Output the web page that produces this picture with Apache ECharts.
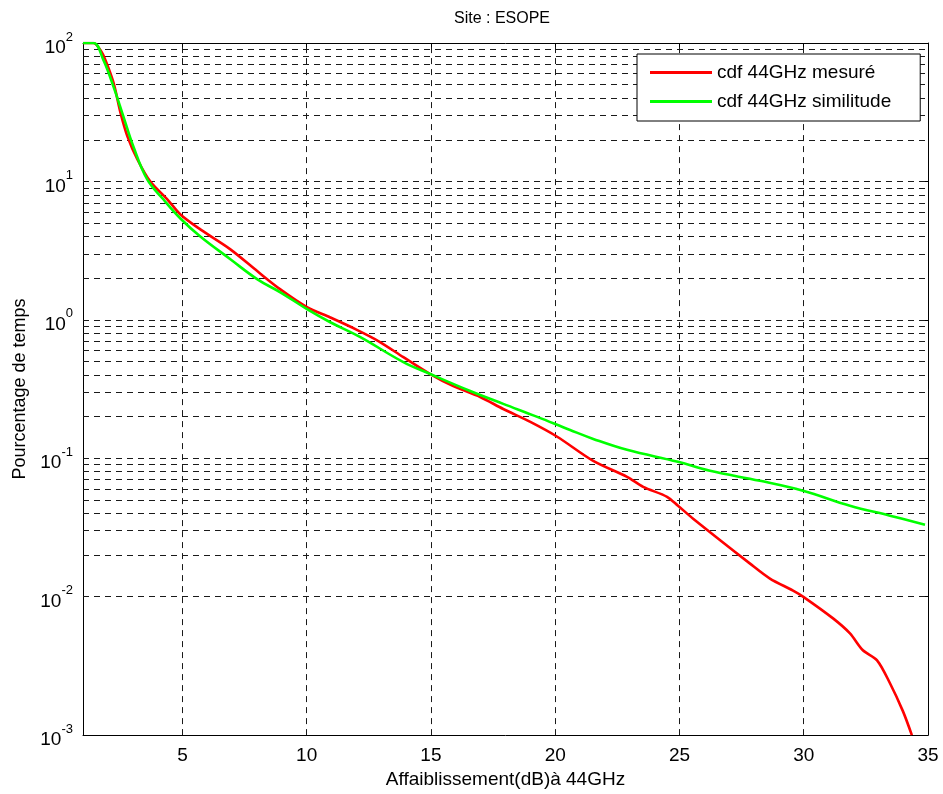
<!DOCTYPE html>
<html>
<head>
<meta charset="utf-8">
<script src="https://cdn.jsdelivr.net/npm/echarts@6/dist/echarts.min.js"></script>
<style>html,body{margin:0;padding:0;background:#fff;}#chart{width:943px;height:794px;}</style>
</head>
<body>
<div id="chart"></div>
<script>
// ---- data ----
const titleText = 'Site : ESOPE';
const xName = 'Affaiblissement(dB)à 44GHz';
const yName = 'Pourcentage de temps';
const seriesNames = ['cdf 44GHz mesuré', 'cdf 44GHz similitude'];
const xTicks = [5, 10, 15, 20, 25, 30, 35];

const xRed = [1.0, 1.42, 1.70, 1.90, 2.23, 2.51, 2.79, 3.19, 3.71, 4.40, 4.92, 5.72, 6.93, 8.02, 8.94, 10.03, 10.95, 12.0, 12.9, 13.89, 14.97, 15.90, 16.98, 17.91, 19.0, 20.08, 21.53, 22.89, 23.54, 24.50, 24.94, 25.55, 27.84, 28.64, 29.57, 29.97, 31.18, 31.86, 32.38, 32.95, 33.47, 33.99, 34.35];
const yRed = [100, 100, 89, 75.5, 51.5, 31.3, 21.1, 14.4, 9.97, 7.4, 5.77, 4.50, 3.23, 2.24, 1.66, 1.23, 1.04, 0.85, 0.70, 0.538, 0.406, 0.332, 0.277, 0.227, 0.183, 0.143, 0.0957, 0.0734, 0.0622, 0.0527, 0.0454, 0.0366, 0.01733, 0.01352, 0.01107, 0.01002, 0.00697, 0.00543, 0.00410, 0.00347, 0.00237, 0.00149, 0.001];

const xGreen = [1.0, 1.42, 1.82, 2.23, 2.63, 3.03, 3.59, 4.24, 4.92, 5.72, 6.93, 8.02, 8.94, 10.03, 10.95, 12.16, 13.89, 14.97, 16.58, 17.91, 19.28, 20.60, 21.53, 22.89, 24.94, 26.23, 28.24, 29.97, 31.86, 33.47, 34.88];
const yGreen = [100, 100, 75.5, 48.2, 29.3, 17.8, 10.3, 7.4, 5.4, 4.0, 2.74, 1.96, 1.58, 1.19, 0.961, 0.750, 0.495, 0.406, 0.306, 0.247, 0.199, 0.160, 0.138, 0.115, 0.0942, 0.0811, 0.0687, 0.0582, 0.0454, 0.0385, 0.0331];

const yDecades = [-3, -2, -1, 0, 1];
const gridMantissas = [1, 2, 3, 4, 5, 6, 7, 8, 9];
const xGridValues = [5, 10, 15, 20, 25, 30];

// ---- build options ----
const zip = (xs, ys) => xs.map((x, i) => [x, ys[i]]);
const hLines = [];
yDecades.forEach(k => {
  gridMantissas.forEach(m => {
    if (k === -3 && m === 1) return;
    hLines.push({ yAxis: m * Math.pow(10, k) });
  });
});
const vLines = xGridValues.map(v => ({ xAxis: v }));

const FONT = '"Liberation Sans", Arial, sans-serif';
const gridStyle = { color: '#1a1a1a', width: 1, type: [6, 5] };

const chart = echarts.init(document.getElementById('chart'), null, { renderer: 'canvas' });
chart.setOption({
  animation: false,
  backgroundColor: '#fff',
  textStyle: { fontFamily: FONT, color: '#000' },
  title: {
    text: titleText,
    left: 497, top: 6, textAlign: 'center',
    textStyle: { fontFamily: FONT, fontSize: 16, fontWeight: 'normal', color: '#000' }
  },
  grid: { left: 83, right: 15, top: 43, bottom: 57, containLabel: false },
  legend: {
    data: seriesNames,
    orient: 'vertical',
    left: 637, top: 54, z: 20,
    icon: 'rect',
    padding: [9, 29, 10, 13],
    itemWidth: 62, itemHeight: 3, itemGap: 10,
    backgroundColor: '#fff', borderColor: '#000', borderWidth: 1, borderRadius: 0,
    textStyle: { fontFamily: FONT, fontSize: 19, color: '#000' }
  },
  xAxis: [{
    type: 'value', min: 1, max: 35, position: 'bottom',
    name: xName, nameLocation: 'middle', nameGap: 34,
    nameTextStyle: { fontFamily: FONT, fontSize: 19, color: '#000' },
    axisLine: { show: true, onZero: false, lineStyle: { color: '#000', width: 1 } },
    axisTick: { show: true, inside: true, length: 5, customValues: xTicks, lineStyle: { color: '#000' } },
    axisLabel: { show: true, customValues: xTicks, margin: 11, fontFamily: FONT, fontSize: 19, color: '#000' },
    splitLine: { show: false }
  }, {
    type: 'value', min: 1, max: 35, position: 'top',
    axisLine: { show: true, onZero: false, lineStyle: { color: '#000', width: 1 } },
    axisTick: { show: true, inside: true, length: 5, customValues: xTicks, lineStyle: { color: '#000' } },
    axisLabel: { show: false },
    splitLine: { show: false }
  }],
  yAxis: [{
    type: 'log', logBase: 10, min: 0.001, max: 100, position: 'left',
    name: yName, nameLocation: 'middle', nameGap: 54,
    nameTextStyle: { fontFamily: FONT, fontSize: 18, color: '#000' },
    axisLine: { show: true, onZero: false, lineStyle: { color: '#000', width: 1 } },
    axisTick: { show: true, inside: true, length: 5, lineStyle: { color: '#000' } },
    axisLabel: {
      show: true, margin: 10,
      formatter: v => '{b|10}{e|' + Math.round(Math.log10(v)) + '}',
      rich: {
        b: { fontFamily: FONT, fontSize: 19, color: '#000', verticalAlign: 'bottom', padding: [10, 0, 0, 0] },
        e: { fontFamily: FONT, fontSize: 13, color: '#000', verticalAlign: 'bottom', padding: [0, 0, 14, 0] }
      }
    },
    splitLine: { show: false }
  }, {
    type: 'log', logBase: 10, min: 0.001, max: 100, position: 'right',
    axisLine: { show: true, onZero: false, lineStyle: { color: '#000', width: 1 } },
    axisTick: { show: true, inside: true, length: 5, lineStyle: { color: '#000' } },
    axisLabel: { show: false },
    splitLine: { show: false }
  }],
  series: [{
    name: '_grid', type: 'line', data: [], z: 1, silent: true,
    markLine: {
      silent: true, symbol: 'none', animation: false, z: 1,
      label: { show: false },
      lineStyle: gridStyle,
      emphasis: { disabled: true },
      data: hLines.concat(vLines)
    }
  }, {
    name: seriesNames[0], type: 'line', data: zip(xRed, yRed),
    showSymbol: false, symbol: 'none', z: 3,
    smooth: 0.3,
    lineStyle: { color: '#ff0000', width: 2.6 }, itemStyle: { color: '#ff0000' }
  }, {
    name: seriesNames[1], type: 'line', data: zip(xGreen, yGreen),
    showSymbol: false, symbol: 'none', z: 4,
    smooth: 0.4,
    lineStyle: { color: '#00ff00', width: 2.6 }, itemStyle: { color: '#00ff00' }
  }]
});
</script>
</body>
</html>
